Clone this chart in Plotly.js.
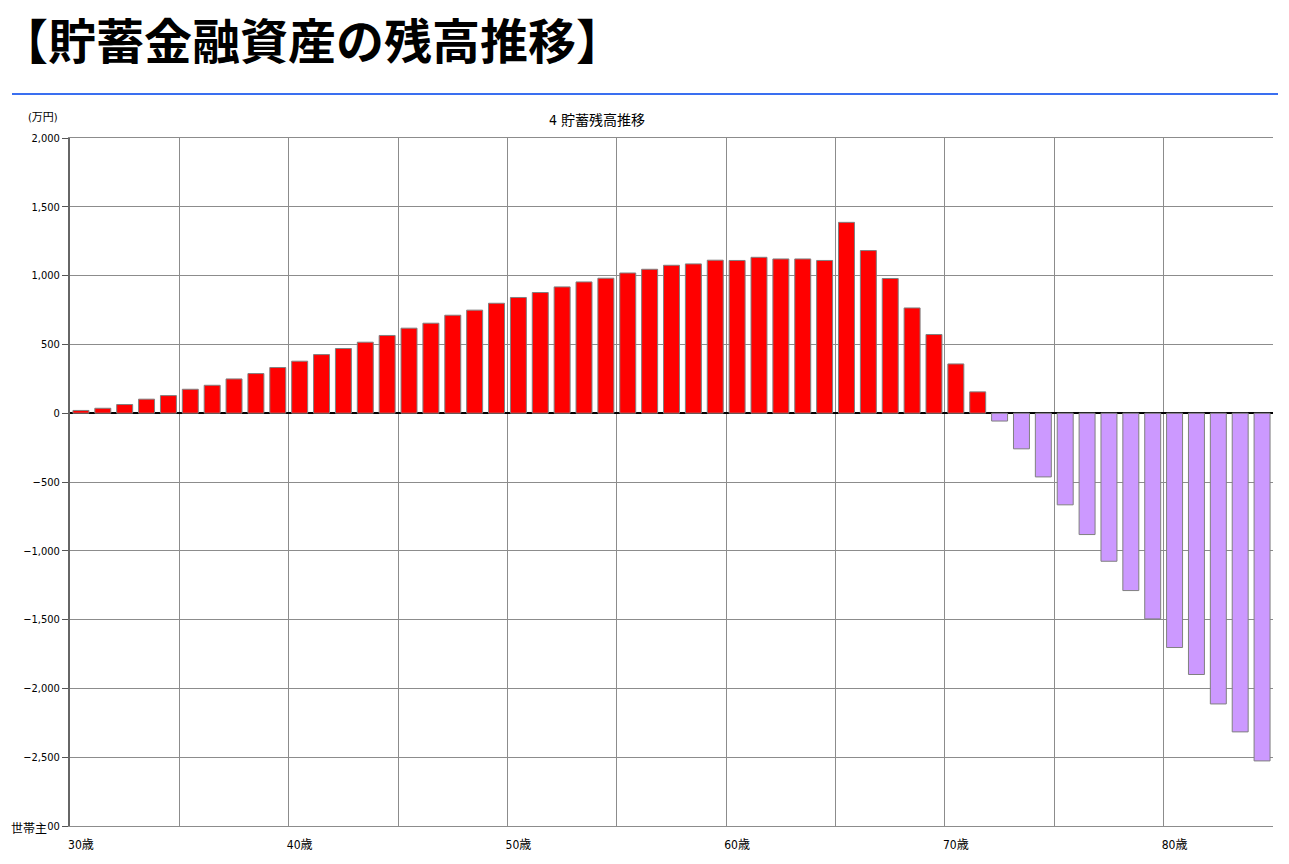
<!DOCTYPE html>
<html>
<head>
<meta charset="utf-8">
<script src="https://cdn.plot.ly/plotly-3.0.1.min.js"></script>
<style>
html,body{margin:0;padding:0;background:#fff;}
#chart{width:1289px;height:864px;}
</style>
</head>
<body>
<div id="chart"></div>
<script>
// ---- data ----
const ages = [30,31,32,33,34,35,36,37,38,39,40,41,42,43,44,45,46,47,48,49,50,51,52,53,54,55,56,57,58,59,60,61,62,63,64,65,66,67,68,69,70,71,72,73,74,75,76,77,78,79,80,81,82,83,84];
const balances = [20,36,63,102,128,174,203,249,288,332,378,426,470,516,565,618,654,712,749,799,841,877,918,954,981,1019,1046,1075,1085,1112,1110,1133,1121,1121,1110,1387,1182,979,765,572,358,155,-57,-259,-463,-666,-882,-1076,-1289,-1495,-1703,-1899,-2113,-2316,-2527];
const labelAges = [30,40,50,60,70,80];
const labelTexts = ["30歳","40歳","50歳","60歳","70歳","80歳"];
const gridAges = [29.5,34.5,39.5,44.5,49.5,54.5,59.5,64.5,69.5,74.5,79.5,84.5];
const yTicks = [-3000,-2500,-2000,-1500,-1000,-500,0,500,1000,1500,2000];
const posColor = "#FF0000";
const negColor = "#CC99FF";

const smallFont = "'Liberation Sans Narrow','DejaVu Sans Condensed','Noto Sans CJK JP',sans-serif";
const cjk = "'Noto Sans CJK JP',sans-serif";

const trace = {
  type: "bar",
  x: ages,
  y: balances,
  marker: {
    color: balances.map(v => v >= 0 ? posColor : negColor),
    line: {color: "#808080", width: 1}
  },
  hoverinfo: "x+y"
};

const layout = {
  width: 1289,
  height: 864,
  margin: {l: 70, r: 16, t: 138, b: 38},
  paper_bgcolor: "#ffffff",
  plot_bgcolor: "#ffffff",
  showlegend: false,
  bargap: 0.27,
  title: {
    text: "<b>【貯蓄金融資産の残高推移】</b>",
    font: {family: cjk, size: 48, color: "#000"},
    x: 0, xanchor: "left", xref: "container",
    y: 1 - 42/864, yanchor: "middle", yref: "container"
  },
  xaxis: {
    range: [29.5, 84.5],
    tickmode: "array",
    tickvals: labelAges,
    ticktext: labelTexts,
    ticks: "",
    ticklabelstandoff: 8,
    showline: true,
    linecolor: "#8c8c8c",
    linewidth: 1,
    mirror: true,
    showgrid: false,
    zeroline: false,
    tickfont: {family: smallFont, size: 12, color: "#000"},
    minor: {
      tickmode: "array",
      tickvals: gridAges,
      showgrid: true,
      gridcolor: "#8c8c8c",
      gridwidth: 1,
      ticks: ""
    },
    fixedrange: true
  },
  yaxis: {
    range: [-3000, 2000],
    tickmode: "array",
    tickvals: yTicks,
    tickformat: ",d",
    ticks: "outside",
    ticklen: 6,
    tickcolor: "#555",
    showline: true,
    linecolor: "#666",
    linewidth: 2,
    showgrid: true,
    gridcolor: "#8c8c8c",
    gridwidth: 1,
    zeroline: true,
    zerolinecolor: "#000",
    zerolinewidth: 1.5,
    tickfont: {family: smallFont, size: 11, color: "#000"},
    fixedrange: true
  },
  shapes: [
    {type: "line", xref: "paper", yref: "paper",
     x0: (12-70)/1203, x1: (1278-70)/1203, y0: (826-94)/688, y1: (826-94)/688,
     line: {color: "#3a6ff0", width: 2}}
  ],
  annotations: [
    {text: "4 貯蓄残高推移", xref: "paper", yref: "paper",
     x: (597-70)/1203, y: (826-120)/688, xanchor: "center", yanchor: "middle",
     showarrow: false, font: {family: smallFont, size: 14, color: "#000"}},
    {text: "(万円)", xref: "paper", yref: "paper",
     x: (26-70)/1203, y: (826-118)/688, xanchor: "left", yanchor: "middle",
     showarrow: false, font: {family: smallFont, size: 11, color: "#000"}},
    {text: "世帯主", xref: "paper", yref: "paper",
     x: (10-70)/1203, y: (826-829)/688, xanchor: "left", yanchor: "middle",
     showarrow: false, bgcolor: "#ffffff", borderpad: 0,
     font: {family: smallFont, size: 12, color: "#000"}}
  ]
};

Plotly.newPlot("chart", [trace], layout, {displayModeBar: false, staticPlot: true});
</script>
</body>
</html>
